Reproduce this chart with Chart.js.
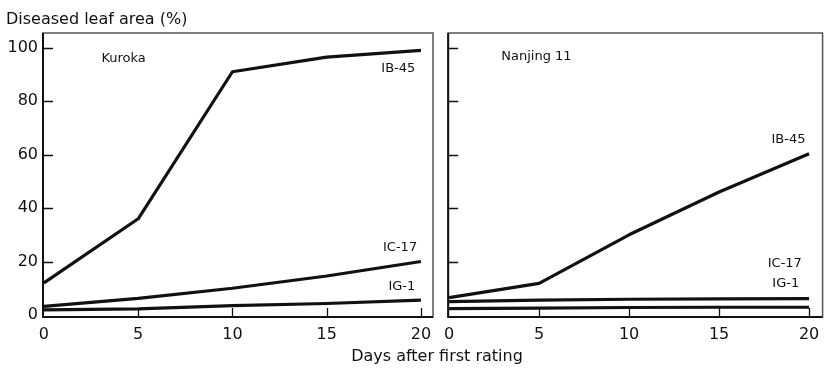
<!DOCTYPE html>
<html>
<head>
<meta charset="utf-8">
<script src="https://cdn.jsdelivr.net/npm/chart.js@4.4.0/dist/chart.umd.min.js"></script>
<style>
  html, body { margin: 0; padding: 0; background: #fff; }
  body { width: 827px; height: 373px; position: relative; overflow: hidden; font-family: "DejaVu Sans", sans-serif; color: #111; }
  .box { position: absolute; top: 0; height: 373px; }
  #ytitle { position: absolute; left: 6px; top: 9px; font-size: 16px; white-space: nowrap; }
  #xtitle { position: absolute; left: 0; width: 874px; top: 346px; font-size: 16px; text-align: center; white-space: nowrap; }
</style>
</head>
<body>
<div class="box" style="left:0;width:440px"><canvas id="left"></canvas></div>
<div class="box" style="left:436px;width:391px"><canvas id="right"></canvas></div>
<div id="ytitle">Diseased leaf area (%)</div>
<div id="xtitle">Days after first rating</div>
<script>
// days after first rating
var days = [0, 5, 10, 15, 20];
var xTicks = [0, 5, 10, 15, 20];
var yTicks = [0, 20, 40, 60, 80, 100];
var lines = ['IB-45', 'IC-17', 'IG-1'];

// Kuroka
var kurokaIB45 = [12, 36, 91, 96.5, 99];
var kurokaIC17 = [3.2, 6.2, 10, 14.6, 20];
var kurokaIG1  = [1.9, 2.3, 3.5, 4.3, 5.6];

// Nanjing 11
var nanjingIB45 = [6.5, 11.8, 30, 46, 60.3];
var nanjingIC17 = [5, 5.6, 5.9, 6, 6.1];
var nanjingIG1  = [2.4, 2.6, 2.8, 2.9, 2.9];

var INK = '#111';

function pts(vals) {
  return days.map(function(d, i) { return { x: d, y: vals[i] }; });
}

// box + inward tick marks + text labels
function panelPlugin(title, titlePos, labelPos) {
  return {
    id: 'panel',
    afterDraw: function(chart) {
      var ctx = chart.ctx, a = chart.chartArea;
      var xs = chart.scales.x, ys = chart.scales.y;
      ctx.save();
      ctx.strokeStyle = '#555';
      ctx.lineWidth = 1.5;
      ctx.strokeRect(a.left, a.top, a.right - a.left, a.bottom - a.top);
      ctx.strokeStyle = INK;
      ctx.lineWidth = 2;
      ctx.beginPath();
      ctx.moveTo(a.left, a.top); ctx.lineTo(a.left, a.bottom); ctx.lineTo(a.right, a.bottom);
      ctx.stroke();
      ctx.lineWidth = 1.3;
      ctx.beginPath();
      yTicks.forEach(function(v) {
        if (v === 0) return;
        var py = Math.round(ys.getPixelForValue(v)) + 0.5;
        ctx.moveTo(a.left, py); ctx.lineTo(a.left + 10, py);
      });
      xTicks.forEach(function(v) {
        if (v === 0) return;
        var px = Math.round(xs.getPixelForValue(v)) + 0.5;
        ctx.moveTo(px, a.bottom); ctx.lineTo(px, a.bottom - 9);
      });
      ctx.stroke();

      ctx.fillStyle = INK;
      ctx.font = '13px "DejaVu Sans"';
      ctx.textBaseline = 'middle';
      ctx.textAlign = 'left';
      ctx.fillText(title, xs.getPixelForValue(titlePos[0]), ys.getPixelForValue(titlePos[1]));
      ctx.textAlign = 'right';
      lines.forEach(function(name, i) {
        ctx.fillText(name, xs.getPixelForValue(labelPos[i][0]), ys.getPixelForValue(labelPos[i][1]));
      });
      ctx.restore();
    }
  };
}

function makeChart(id, series, opts) {
  var ds = series.map(function(vals, i) {
    return {
      label: lines[i],
      data: pts(vals),
      borderColor: INK,
      borderWidth: 3.2,
      pointRadius: 0,
      tension: 0,
      borderCapStyle: 'butt',
      borderJoinStyle: 'round'
    };
  });
  return new Chart(document.getElementById(id), {
    type: 'line',
    data: { datasets: ds },
    options: {
      responsive: true,
      maintainAspectRatio: false,
      animation: false,
      events: [],
      layout: { padding: { top: 33, right: opts.padRight, left: opts.padLeft, bottom: 0 } },
      plugins: { legend: { display: false }, tooltip: { enabled: false } },
      scales: {
        x: {
          type: 'linear',
          min: -0.05,
          max: opts.xMax,
          grid: { display: false, drawTicks: false },
          border: { display: false },
          afterBuildTicks: function(s) { s.ticks = xTicks.map(function(v) { return { value: v }; }); },
          afterFit: function(s) { s.height = 56; },
          ticks: { color: INK, font: { family: 'DejaVu Sans', size: 16 }, padding: 8, maxRotation: 0, autoSkip: false }
        },
        y: {
          min: -0.75,
          max: 105.5,
          grid: { display: false, drawTicks: false },
          border: { display: false },
          afterBuildTicks: function(s) { s.ticks = yTicks.map(function(v) { return { value: v }; }); },
          afterFit: function(s) { s.width = opts.yWidth; },
          ticks: { display: opts.yLabels, color: INK, font: { family: 'DejaVu Sans', size: 16 }, padding: 5 }
        }
      }
    },
    plugins: [panelPlugin(opts.title, opts.titlePos, opts.labelPos)]
  });
}

makeChart('left', [kurokaIB45, kurokaIC17, kurokaIG1], {
  title: 'Kuroka', titlePos: [3.05, 96],
  labelPos: [[19.7, 92.3], [19.8, 25.2], [19.7, 10.8]],
  xMax: 20.64, padLeft: 0, padRight: 7, yWidth: 43, yLabels: true
});

makeChart('right', [nanjingIB45, nanjingIC17, nanjingIG1], {
  title: 'Nanjing 11', titlePos: [2.9, 96.6],
  labelPos: [[19.8, 65.7], [19.6, 19.3], [19.45, 11.6]],
  xMax: 20.75, padLeft: 4, padRight: 1, yWidth: 0, yLabels: false
});
</script>
</body>
</html>
